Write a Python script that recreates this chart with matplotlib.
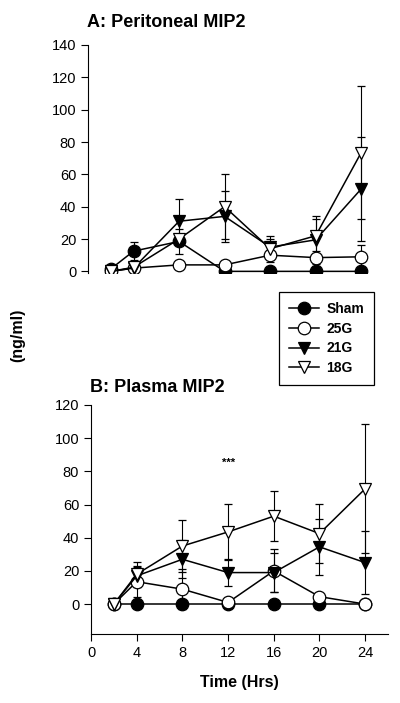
from matplotlib import pyplot as plt
from matplotlib.lines import Line2D
import numpy as np

plt.rcParams['font.family'] = ['Liberation Sans', 'DejaVu Sans']

hours = [2, 4, 8, 12, 16, 20, 24]
groups = ['Sham', '25G', '21G', '18G']

# A: peritoneal MIP2 (ng/ml), mean and error
perit_mean = {
    'Sham': [1.5, 12.5, 18.5, 0, 0, 0, 0],
    '25G': [0, 2, 4, 4, 10, 8.5, 9],
    '21G': [0, 2, 31, 34, 15, 19.5, 51],
    '18G': [0, 2.5, 20, 40, 14, 22, 73.5],
}
perit_err = {
    'Sham': [0.5, 5.5, 8, 0, 0, 0, 0],
    '25G': [0.5, 1, 1, 1, 2, 4, 7.5],
    '21G': [0.5, 1, 14, 16, 5, 13, 32],
    '18G': [0.5, 1, 3, 20, 8, 12, 41],
}

# B: plasma MIP2 (ng/ml)
plasma_mean = {
    'Sham': [0, 0, 0, 0, 0, 0, 0],
    '25G': [0, 13.5, 9, 1, 20, 4.5, 0],
    '21G': [0, 17, 27, 19, 19, 34.5, 25],
    '18G': [0, 18, 35, 43.5, 53, 42.5, 69.5],
}
plasma_err = {
    'Sham': [0, 0, 0, 0, 0, 0, 0],
    '25G': [0.5, 9, 12, 1, 13, 2, 1],
    '21G': [0.5, 6, 11.5, 8, 12, 17, 19],
    '18G': [0.5, 7.5, 15.5, 17, 15, 18, 39],
}

styles = {
    'Sham': dict(marker='o', mfc='black', ms=9),
    '25G': dict(marker='o', mfc='white', ms=9),
    '21G': dict(marker='v', mfc='black', ms=8.5),
    '18G': dict(marker='v', mfc='white', ms=8.5),
}

fig = plt.figure(figsize=(4, 7.03), dpi=100)
axA = fig.add_axes([0.22, 0.6117, 0.74, 0.3243])
axB = fig.add_axes([0.2275, 0.0982, 0.7425, 0.3257])


def draw(ax, means, errs):
    for g in groups:
        ax.errorbar(hours, means[g], yerr=errs[g], color='black', lw=1.1,
                    elinewidth=0.8, capsize=3, capthick=0.8,
                    mec='black', mew=0.9, **styles[g])
    ax.spines['top'].set_visible(False)
    ax.spines['right'].set_visible(False)
    ax.tick_params(direction='out', length=5, width=0.8, labelsize=10.5)


draw(axA, perit_mean, perit_err)
axA.set_xlim(0, 26)
axA.set_ylim(-1, 140)
axA.set_yticks(np.arange(0, 141, 20))
axA.spines['bottom'].set_visible(False)
axA.set_xticks([])

draw(axB, plasma_mean, plasma_err)
axB.set_xlim(0, 26)
axB.set_ylim(-18, 120)
axB.set_yticks(np.arange(0, 121, 20))
axB.set_xticks(np.arange(0, 25, 4))
axB.text(12, 85, '***', ha='center', va='center', fontsize=8, fontweight='bold')
axB.set_xlabel('Time (Hrs)', fontsize=11.5, fontweight='bold', labelpad=11)

fig.text(0.2175, 0.962, 'A: Peritoneal MIP2', fontsize=13, fontweight='bold')
fig.text(0.225, 0.442, 'B: Plasma MIP2', fontsize=13, fontweight='bold')
fig.text(0.045, 0.523, '(ng/ml)', rotation=90, ha='center', va='center',
         fontsize=11.5, fontweight='bold')

handles = [Line2D([], [], color='black', lw=1.1, mec='black', mew=0.9, **styles[g])
           for g in groups]
leg = fig.legend(handles, groups, loc='upper left', bbox_to_anchor=(0.6975, 0.5846),
                 borderaxespad=0, fancybox=False, edgecolor='black', framealpha=1,
                 prop={'weight': 'bold', 'size': 10}, handlelength=2.2,
                 labelspacing=0.42, borderpad=0.7, handletextpad=0.5)
leg.get_frame().set_linewidth(0.9)

fig.savefig('out.png', dpi=100)
